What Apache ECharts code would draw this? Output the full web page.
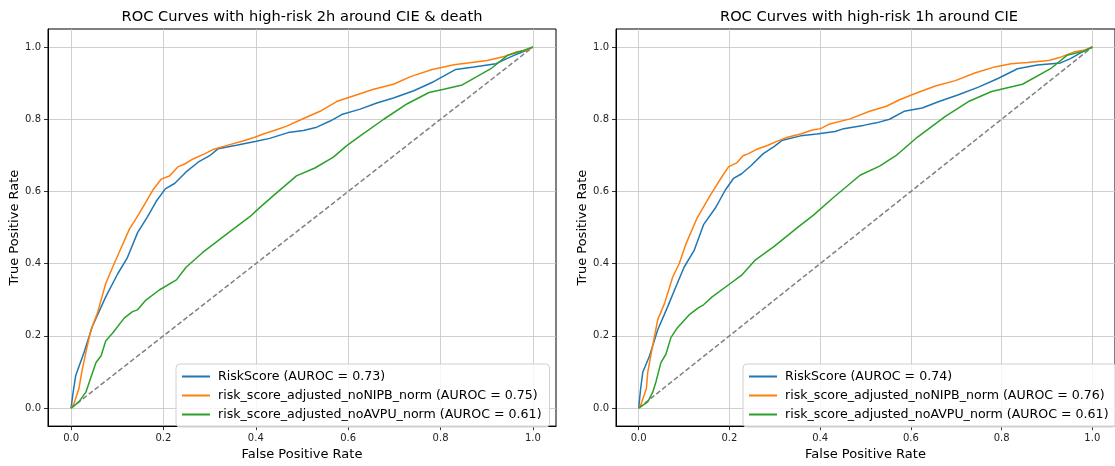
<!DOCTYPE html>
<html>
<head>
<meta charset="utf-8">
<script src="https://cdn.jsdelivr.net/npm/echarts@6/dist/echarts.min.js"></script>
<style>
  html, body { margin: 0; padding: 0; background: #fff; }
  #chart { width: 1115px; height: 466px; }
</style>
</head>
<body>
<div id="chart"></div>
<script>
// tick positions shared by both panels
var ticks = [0, 0.2, 0.4, 0.6, 0.8, 1.0];
var diag = [[0, 0], [1, 1]];

var titles = ['ROC Curves with high-risk 2h around CIE & death', 'ROC Curves with high-risk 1h around CIE'];

// left panel (2h around CIE & death)
var leftNames = [
    'RiskScore (AUROC = 0.73)',
    'risk_score_adjusted_noNIPB_norm (AUROC = 0.75)',
    'risk_score_adjusted_noAVPU_norm (AUROC = 0.61)'
];
var leftRisk = [[0,0],[0.004,0.04],[0.01,0.09],[0.028,0.154],[0.046,0.226],[0.075,0.308],[0.101,0.372],[0.122,0.417],[0.144,0.486],[0.166,0.531],[0.184,0.572],[0.204,0.607],[0.224,0.622],[0.249,0.654],[0.275,0.681],[0.30,0.699],[0.318,0.718],[0.358,0.728],[0.401,0.739],[0.430,0.747],[0.470,0.763],[0.503,0.769],[0.532,0.778],[0.561,0.795],[0.586,0.813],[0.626,0.828],[0.662,0.845],[0.698,0.859],[0.742,0.879],[0.785,0.904],[0.833,0.938],[0.872,0.945],[0.920,0.954],[0.959,0.977],[0.988,0.992],[1,1]];
var leftNoNIPB = [[0,0],[0.0065,0.013],[0.017,0.054],[0.023,0.099],[0.032,0.154],[0.043,0.217],[0.057,0.263],[0.075,0.345],[0.093,0.399],[0.104,0.431],[0.126,0.495],[0.148,0.540],[0.177,0.604],[0.195,0.634],[0.213,0.643],[0.231,0.668],[0.246,0.676],[0.264,0.690],[0.289,0.704],[0.307,0.716],[0.336,0.727],[0.372,0.740],[0.398,0.750],[0.416,0.759],[0.438,0.768],[0.467,0.781],[0.496,0.798],[0.539,0.822],[0.575,0.849],[0.619,0.868],[0.655,0.883],[0.698,0.897],[0.735,0.918],[0.782,0.938],[0.829,0.951],[0.901,0.963],[0.938,0.974],[0.963,0.986],[0.988,0.992],[1,1]];
var leftNoAVPU = [[0,0],[0.017,0.017],[0.032,0.044],[0.043,0.085],[0.054,0.126],[0.065,0.145],[0.075,0.186],[0.090,0.208],[0.115,0.249],[0.133,0.267],[0.144,0.272],[0.162,0.299],[0.191,0.327],[0.228,0.355],[0.249,0.390],[0.285,0.431],[0.336,0.481],[0.387,0.530],[0.409,0.556],[0.445,0.596],[0.488,0.643],[0.528,0.665],[0.568,0.695],[0.597,0.727],[0.626,0.754],[0.677,0.80],[0.728,0.843],[0.775,0.874],[0.807,0.883],[0.847,0.895],[0.909,0.940],[0.945,0.977],[0.978,0.990],[1,1]];

// right panel (1h around CIE)
var rightNames = [
    'RiskScore (AUROC = 0.74)',
    'risk_score_adjusted_noNIPB_norm (AUROC = 0.76)',
    'risk_score_adjusted_noAVPU_norm (AUROC = 0.61)'
];
var rightRisk = [[0,0],[0.004,0.05],[0.009,0.099],[0.024,0.145],[0.042,0.217],[0.064,0.281],[0.082,0.336],[0.10,0.390],[0.122,0.436],[0.143,0.508],[0.169,0.554],[0.191,0.604],[0.209,0.636],[0.227,0.649],[0.248,0.672],[0.274,0.704],[0.299,0.725],[0.317,0.742],[0.357,0.754],[0.393,0.759],[0.433,0.766],[0.452,0.774],[0.495,0.783],[0.524,0.790],[0.553,0.800],[0.585,0.822],[0.625,0.831],[0.662,0.849],[0.705,0.868],[0.749,0.889],[0.792,0.913],[0.835,0.940],[0.879,0.950],[0.930,0.956],[0.952,0.968],[0.973,0.983],[1,1]];
var rightNoNIPB = [[0,0],[0.006,0.013],[0.017,0.054],[0.020,0.099],[0.028,0.154],[0.042,0.245],[0.057,0.290],[0.075,0.363],[0.089,0.399],[0.104,0.454],[0.129,0.527],[0.158,0.590],[0.183,0.640],[0.198,0.668],[0.216,0.679],[0.230,0.699],[0.241,0.704],[0.259,0.716],[0.285,0.728],[0.307,0.740],[0.328,0.750],[0.357,0.759],[0.383,0.770],[0.401,0.774],[0.419,0.786],[0.466,0.801],[0.509,0.822],[0.546,0.836],[0.575,0.854],[0.611,0.872],[0.654,0.892],[0.698,0.907],[0.741,0.928],[0.785,0.945],[0.821,0.954],[0.857,0.957],[0.904,0.963],[0.930,0.972],[0.959,0.986],[0.984,0.992],[1,1]];
var rightNoAVPU = [[0,0],[0.020,0.017],[0.031,0.044],[0.038,0.072],[0.049,0.126],[0.060,0.149],[0.071,0.195],[0.085,0.222],[0.111,0.258],[0.133,0.279],[0.143,0.286],[0.162,0.308],[0.202,0.345],[0.227,0.368],[0.256,0.409],[0.298,0.447],[0.354,0.504],[0.386,0.535],[0.430,0.584],[0.488,0.645],[0.531,0.670],[0.567,0.699],[0.614,0.750],[0.676,0.808],[0.727,0.849],[0.778,0.877],[0.846,0.897],[0.908,0.940],[0.944,0.977],[0.980,0.988],[1,1]];

var colors = ['#1f77b4', '#ff7f0e', '#2ca02c'];
var font = 'DejaVu Sans';

function makeAxis(idx, isX) {
    return {
        type: 'value',
        gridIndex: idx,
        min: -0.05,
        max: 1.05,
        name: isX ? 'False Positive Rate' : 'True Positive Rate',
        nameLocation: 'middle',
        nameGap: isX ? 18 : 24,
        nameTextStyle: { fontFamily: font, fontSize: 13, color: '#000' },
        axisLine: { show: true, onZero: false, lineStyle: { color: '#000', width: 1 } },
        axisTick: { show: true, length: 4, customValues: ticks, lineStyle: { color: '#000', width: 0.8 } },
        axisLabel: {
            customValues: ticks,
            margin: 7,
            fontFamily: font,
            fontSize: 10,
            color: '#222',
            formatter: function(v) { return v.toFixed(1); }
        },
        splitLine: { show: true, lineStyle: { color: '#c4c4c4', width: 0.8 } }
    };
}

function line(name, data, color, idx) {
    return {
        name: name,
        type: 'line',
        xAxisIndex: idx,
        yAxisIndex: idx,
        data: data,
        symbol: 'none',
        smooth: false,
        lineStyle: { color: color, width: 1.5 },
        itemStyle: { color: color },
        z: 3
    };
}

function diagLine(idx) {
    return {
        type: 'line',
        xAxisIndex: idx,
        yAxisIndex: idx,
        data: diag,
        symbol: 'none',
        silent: true,
        lineStyle: { color: '#808080', width: 1.5, type: [5, 2.5] },
        z: 2
    };
}

function makeLegend(names, left) {
    return {
        data: names,
        orient: 'vertical',
        left: left,
        top: 364,
        itemWidth: 28,
        itemHeight: 12,
        itemGap: 6,
        padding: [6, 8, 6, 5],
        selectedMode: false,
        backgroundColor: 'rgba(255,255,255,0.8)',
        borderColor: '#d0d0d0',
        borderWidth: 1,
        borderRadius: 4,
        itemStyle: { opacity: 0 }, // line only, no marker
        textStyle: { fontFamily: font, fontSize: 12.6, color: '#000', padding: [0, 0, 0, 3] }
    };
}

var option = {
    backgroundColor: '#fff',
    animation: false,
    title: [
        { text: titles[0], left: 302, top: 10, textAlign: 'center', padding: 0,
          textStyle: { fontFamily: font, fontSize: 14.6, fontWeight: 'normal', color: '#000' } },
        { text: titles[1], left: 869, top: 10, textAlign: 'center', padding: 0,
          textStyle: { fontFamily: font, fontSize: 14.6, fontWeight: 'normal', color: '#000' } }
    ],
    legend: [makeLegend(leftNames, 176), makeLegend(rightNames, 743)],
    grid: [
        { left: 48, top: 29, width: 508, height: 403, show: true, borderColor: '#000', borderWidth: 1, backgroundColor: 'transparent' },
        { left: 616, top: 29, width: 506, height: 403, show: true, borderColor: '#000', borderWidth: 1, backgroundColor: 'transparent' }
    ],
    xAxis: [makeAxis(0, true), makeAxis(1, true)],
    yAxis: [makeAxis(0, false), makeAxis(1, false)],
    series: [
        line(leftNames[0], leftRisk, colors[0], 0),
        line(leftNames[1], leftNoNIPB, colors[1], 0),
        line(leftNames[2], leftNoAVPU, colors[2], 0),
        diagLine(0),
        line(rightNames[0], rightRisk, colors[0], 1),
        line(rightNames[1], rightNoNIPB, colors[1], 1),
        line(rightNames[2], rightNoAVPU, colors[2], 1),
        diagLine(1)
    ]
};

var chart = echarts.init(document.getElementById('chart'));
chart.setOption(option);
window.onresize = function() {
    chart.resize();
};
</script>
</body>
</html>
